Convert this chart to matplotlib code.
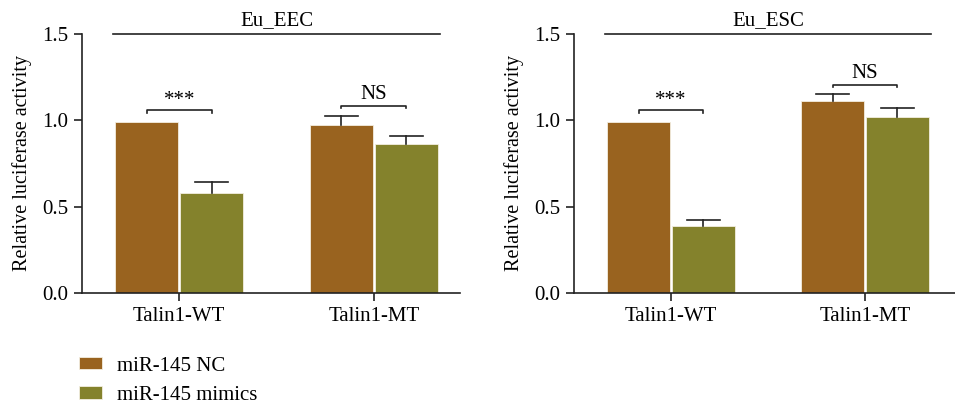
import numpy as np
import matplotlib.pyplot as plt

plt.rcParams['font.family'] = ['Liberation Serif', 'DejaVu Serif']
plt.rcParams['font.size'] = 15

groups = ['Talin1-WT', 'Talin1-MT']
series = ['miR-145 NC', 'miR-145 mimics']
colors = ['#99631f', '#84822c']

# mean and error per cell line: rows = series, columns = groups
eec_means = [[0.99, 0.975], [0.58, 0.865]]
eec_errs = [[0.0, 0.05], [0.06, 0.047]]
esc_means = [[0.99, 1.114], [0.39, 1.02]]
esc_errs = [[0.0, 0.036], [0.03, 0.053]]

eec_marks = ['***', 'NS']
eec_mark_y = [1.058, 1.085]
esc_marks = ['***', 'NS']
esc_mark_y = [1.058, 1.206]

fig = plt.figure(figsize=(9.55, 4.04), dpi=100)
ax1 = fig.add_axes([0.0859, 0.2748, 0.3958, 0.641])
ax2 = fig.add_axes([0.601, 0.2748, 0.399, 0.641])

width = 0.325
offs = [-0.167, 0.167]
ink = '#222222'


def panel(ax, title, means, errs, marks, mark_y, xmax):
    x = np.arange(len(groups))
    for i in range(len(series)):
        ax.bar(x + offs[i], means[i], width, color=colors[i],
               edgecolor='#f3eee0', linewidth=0.6, label=series[i], zorder=2)
        # upper error bar only, with a cap
        for xi, m, e in zip(x + offs[i], means[i], errs[i]):
            if e <= 0:
                continue
            ax.plot([xi, xi], [m, m + e], color=ink, lw=1.2, zorder=3)
            ax.plot([xi - 0.085, xi + 0.085], [m + e, m + e], color=ink, lw=1.2, zorder=3)
    # significance brackets between paired bars
    for j in range(len(groups)):
        y = mark_y[j]
        xl, xr = x[j] + offs[0], x[j] + offs[1]
        ax.plot([xl, xl, xr, xr], [y - 0.013, y, y, y - 0.013],
                color=ink, lw=1.2, clip_on=False)
        pad = 0.0 if marks[j] == '***' else 0.012
        ax.text(x[j], y + pad, marks[j], ha='center', va='bottom', fontsize=15)
    ax.plot([-0.34, 1.34], [1.5, 1.5], color=ink, lw=1.2, clip_on=False)
    ax.text(0.5, 1.52, title, ha='center', va='bottom', fontsize=15)

    ax.set_xlim(-0.5, xmax)
    ax.set_ylim(0, 1.5)
    ax.set_yticks([0, 0.5, 1.0, 1.5])
    ax.set_yticklabels(['0.0', '0.5', '1.0', '1.5'])
    ax.set_xticks(x)
    ax.set_xticklabels(groups)
    ax.spines['top'].set_visible(False)
    ax.spines['right'].set_visible(False)
    for s in ['left', 'bottom']:
        ax.spines[s].set_linewidth(1.2)
        ax.spines[s].set_color(ink)
    ax.tick_params(length=6, width=1.2, color=ink, pad=4)
    ax.set_ylabel('Relative luciferase activity', fontsize=14.5, labelpad=7)


panel(ax1, 'Eu_EEC', eec_means, eec_errs, eec_marks, eec_mark_y, 1.443)
panel(ax2, 'Eu_ESC', esc_means, esc_errs, esc_marks, esc_mark_y, 1.464)

handles, labels = ax1.get_legend_handles_labels()
fig.legend(handles, labels, loc='upper left', bbox_to_anchor=(0.074, 0.138),
           frameon=False, handlelength=1.1, handleheight=0.55, labelspacing=0.5,
           handletextpad=0.7, fontsize=15, borderaxespad=0)

fig.savefig('out.png', dpi=100)
